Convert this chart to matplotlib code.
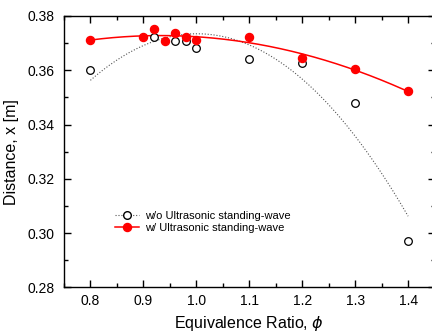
import numpy as np
import matplotlib
matplotlib.use("Agg")
import matplotlib.pyplot as plt
from matplotlib.ticker import MultipleLocator

# data
phi_wo = [0.80, 0.92, 0.96, 0.98, 1.00, 1.10, 1.20, 1.30, 1.40]
x_wo = [0.3600, 0.3724, 0.3708, 0.3708, 0.3683, 0.3641, 0.3628, 0.3481, 0.2971]

phi_w = [0.80, 0.90, 0.92, 0.94, 0.96, 0.98, 1.00, 1.10, 1.20, 1.30, 1.40]
x_w = [0.3710, 0.3722, 0.3751, 0.3709, 0.3736, 0.3722, 0.3710, 0.3724, 0.3644, 0.3603, 0.3523]

label_wo = 'w/o Ultrasonic standing-wave'
label_w = 'w/ Ultrasonic standing-wave'

plt.rcParams['font.family'] = ['Liberation Sans', 'DejaVu Sans']

fig = plt.figure(figsize=(4.32, 3.33), dpi=100)
ax = fig.add_axes([0.148, 0.137, 0.858, 0.815])

# quadratic fits
xs = np.linspace(0.8, 1.4, 200)
fit_wo = np.polyval(np.polyfit(phi_wo, x_wo, 2), xs)
fit_w = np.polyval(np.polyfit(phi_w, x_w, 2), xs)

ax.plot(xs, fit_wo, ':', color='#555555', linewidth=0.8)
ax.plot(xs, fit_w, '-', color='red', linewidth=1.1)
ax.plot(phi_wo, x_wo, 'o', mfc='white', mec='black', mew=0.9, ms=5.5, zorder=3)
ax.plot(phi_w, x_w, 'o', color='red', ms=5.8, zorder=4)

# legend proxies
h1, = ax.plot([], [], ':o', color='#555555', mfc='white', mec='black', ms=5.5, lw=0.8)
h2, = ax.plot([], [], '-o', color='red', ms=5.8, lw=1.1)
ax.legend([h1, h2], [label_wo, label_w], loc='upper left', bbox_to_anchor=(0.11, 0.32),
          frameon=False, fontsize=8, handlelength=2.2, handletextpad=0.5,
          labelspacing=0.25)

ax.set_xlim(0.75, 1.45)
ax.set_ylim(0.28, 0.38)
ax.xaxis.set_minor_locator(MultipleLocator(0.05))
ax.yaxis.set_minor_locator(MultipleLocator(0.01))
ax.set_xticks([0.8, 0.9, 1.0, 1.1, 1.2, 1.3, 1.4])
ax.set_xticklabels(['0.8', '0.9', '1.0', '1.1', '1.2', '1.3', '1.4'])
ax.set_yticks([0.28, 0.30, 0.32, 0.34, 0.36, 0.38])
ax.set_yticklabels(['0.28', '0.30', '0.32', '0.34', '0.36', '0.38'])
ax.tick_params(which='both', direction='in', top=True, right=True, labelsize=10, width=1.0)
ax.tick_params(which='major', length=5)
ax.tick_params(which='minor', length=3)
ax.tick_params(axis='x', pad=5)
ax.tick_params(axis='y', pad=7)
for s in ax.spines.values():
    s.set_linewidth(1.0)

ax.set_xlabel(r'Equivalence Ratio, $\phi$', fontsize=11.5, labelpad=4)
ax.set_ylabel('Distance, x [m]', fontsize=11.5, labelpad=6)

fig.savefig('out.png', dpi=100)
